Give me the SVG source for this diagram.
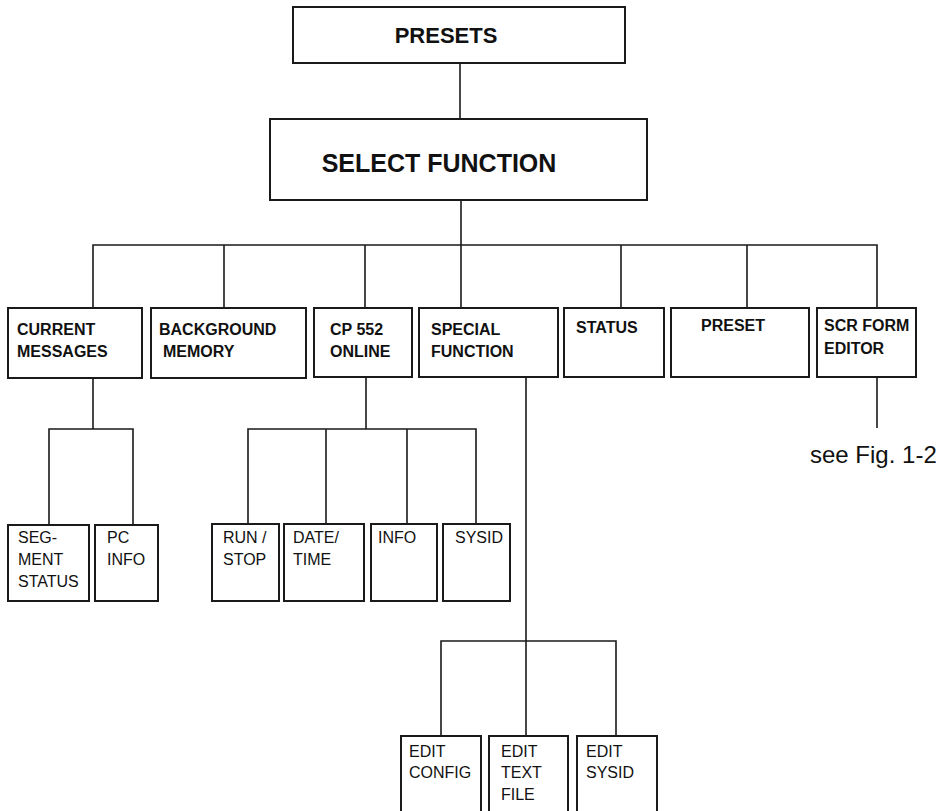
<svg xmlns="http://www.w3.org/2000/svg" width="944" height="811" viewBox="0 0 944 811">
  <style>
    .box { fill: #fff; stroke: #1a1a1a; stroke-width: 2; }
    .wire { fill: none; stroke: #1a1a1a; stroke-width: 1.6; }
    .title { font-family: "Liberation Sans", Arial, sans-serif; font-weight: bold; fill: #111; }
    .lbl { font-family: "Liberation Sans", Arial, sans-serif; font-weight: bold; font-size: 16px; fill: #111; }
    .sub { font-family: "Liberation Sans", Arial, sans-serif; font-size: 16px; fill: #111; }
    .note { font-family: "Liberation Sans", Arial, sans-serif; font-size: 24px; fill: #111; }
  </style>
  <rect width="944" height="811" fill="#fff"/>

  <!-- connectors -->
  <g id="connectors" class="wire">
    <path d="M460 63 V119"/>
    <path d="M461 200 V308"/>
    <path d="M93 308 V245 H877 V308"/>
    <path d="M224 245 V308"/>
    <path d="M365 245 V308"/>
    <path d="M621 245 V308"/>
    <path d="M747 245 V308"/>
    <!-- CURRENT MESSAGES branch -->
    <path d="M93 377 V429"/>
    <path d="M49 525 V429 H133 V525"/>
    <!-- CP 552 ONLINE branch -->
    <path d="M366 377 V429"/>
    <path d="M248 524 V429 H476 V524"/>
    <path d="M326 429 V524"/>
    <path d="M407 429 V524"/>
    <!-- SPECIAL FUNCTION branch -->
    <path d="M526 377 V736"/>
    <path d="M441 736 V641 H616 V736"/>
    <!-- SCR FORM EDITOR reference -->
    <path d="M877 377 V428"/>
  </g>

  <g id="presets">
    <rect class="box" x="293" y="7" width="332" height="56"/>
    <text class="title" x="446" y="43" font-size="22" text-anchor="middle">PRESETS</text>
  </g>

  <g id="select-function">
    <rect class="box" x="270" y="119" width="377" height="81"/>
    <text class="title" x="439" y="172" font-size="25" text-anchor="middle">SELECT FUNCTION</text>
  </g>

  <g id="current-messages">
    <rect class="box" x="8" y="308" width="134" height="70"/>
    <text class="lbl" x="17" y="335">CURRENT</text>
    <text class="lbl" x="17" y="357">MESSAGES</text>
  </g>

  <g id="background-memory">
    <rect class="box" x="151" y="308" width="155" height="70"/>
    <text class="lbl" x="159" y="335">BACKGROUND</text>
    <text class="lbl" x="163" y="357">MEMORY</text>
  </g>

  <g id="cp552-online">
    <rect class="box" x="314" y="308" width="98" height="69"/>
    <text class="lbl" x="330" y="335">CP 552</text>
    <text class="lbl" x="330" y="357">ONLINE</text>
  </g>

  <g id="special-function">
    <rect class="box" x="419" y="308" width="139" height="69"/>
    <text class="lbl" x="431" y="335">SPECIAL</text>
    <text class="lbl" x="431" y="357">FUNCTION</text>
  </g>

  <g id="status">
    <rect class="box" x="564" y="308" width="100" height="69"/>
    <text class="lbl" x="576" y="333">STATUS</text>
  </g>

  <g id="preset">
    <rect class="box" x="671" y="308" width="138" height="69"/>
    <text class="lbl" x="701" y="331">PRESET</text>
  </g>

  <g id="scr-form-editor">
    <rect class="box" x="817" y="308" width="99" height="69"/>
    <text class="lbl" x="824" y="331">SCR FORM</text>
    <text class="lbl" x="824" y="354">EDITOR</text>
  </g>

  <text id="see-fig" class="note" x="810" y="463">see Fig. 1-2</text>

  <g id="segment-status">
    <rect class="box" x="8" y="525" width="81" height="76"/>
    <text class="sub" x="18" y="543">SEG-</text>
    <text class="sub" x="18" y="565">MENT</text>
    <text class="sub" x="18" y="587">STATUS</text>
  </g>

  <g id="pc-info">
    <rect class="box" x="95" y="525" width="63" height="76"/>
    <text class="sub" x="107" y="543">PC</text>
    <text class="sub" x="107" y="565">INFO</text>
  </g>

  <g id="run-stop">
    <rect class="box" x="212" y="524" width="67" height="77"/>
    <text class="sub" x="223" y="543">RUN /</text>
    <text class="sub" x="223" y="565">STOP</text>
  </g>

  <g id="date-time">
    <rect class="box" x="284" y="524" width="80" height="77"/>
    <text class="sub" x="293" y="543">DATE/</text>
    <text class="sub" x="293" y="565">TIME</text>
  </g>

  <g id="info">
    <rect class="box" x="371" y="524" width="66" height="77"/>
    <text class="sub" x="378" y="543">INFO</text>
  </g>

  <g id="sysid">
    <rect class="box" x="443" y="524" width="67" height="77"/>
    <text class="sub" x="455" y="543">SYSID</text>
  </g>

  <g id="edit-config">
    <rect class="box" x="401" y="736" width="80" height="90"/>
    <text class="sub" x="409" y="757">EDIT</text>
    <text class="sub" x="409" y="778">CONFIG</text>
  </g>

  <g id="edit-text-file">
    <rect class="box" x="489" y="736" width="79" height="90"/>
    <text class="sub" x="501" y="757">EDIT</text>
    <text class="sub" x="501" y="778">TEXT</text>
    <text class="sub" x="501" y="800">FILE</text>
  </g>

  <g id="edit-sysid">
    <rect class="box" x="577" y="736" width="80" height="90"/>
    <text class="sub" x="586" y="757">EDIT</text>
    <text class="sub" x="586" y="778">SYSID</text>
  </g>
</svg>
